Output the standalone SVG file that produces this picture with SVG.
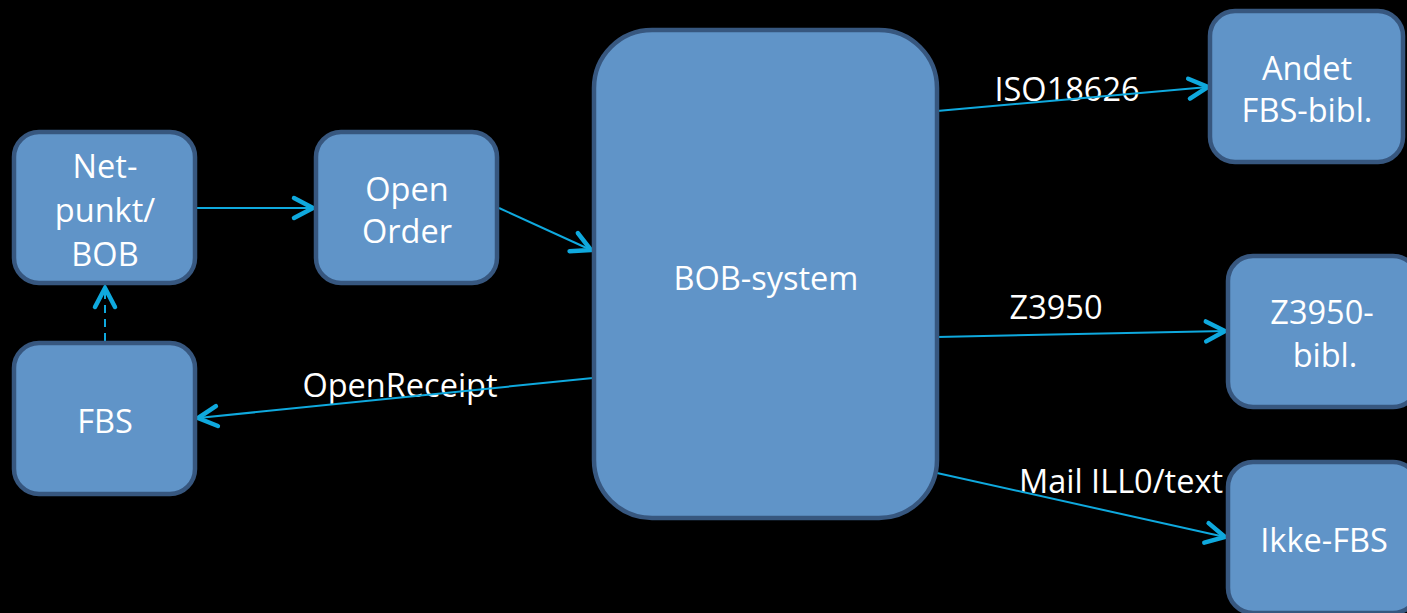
<svg xmlns="http://www.w3.org/2000/svg" width="1407" height="613" viewBox="0 0 1407 613">
<style>
.box{fill:#6094C8;stroke:#37577F;stroke-width:4.5}
.lbl{font-family:"Open Sans","DejaVu Sans",sans-serif;font-size:32.5px;fill:#FFFFFF;text-anchor:middle}
.con{stroke:#0FA9DE;stroke-width:2;fill:none}
</style>
<defs>
<marker id="arr" markerUnits="userSpaceOnUse" markerWidth="30" markerHeight="30" refX="23" refY="14" orient="auto" overflow="visible">
<path d="M4,4 L23,14 L4,24" fill="none" stroke="#0FA9DE" stroke-width="4.5" stroke-linecap="round" stroke-linejoin="miter"/>
</marker>
</defs>
<rect width="1407" height="613" fill="#000000"/>
<g id="labels">
<text class="lbl" x="400" y="397">OpenReceipt</text>
<text class="lbl" x="1067" y="101">ISO18626</text>
<text class="lbl" x="1056" y="319">Z3950</text>
<text class="lbl" x="1121" y="493">Mail ILL0/text</text>
</g>
<g id="connectors">
<line class="con" x1="197" y1="208" x2="313" y2="208" marker-end="url(#arr)"/>
<line class="con" x1="499" y1="208" x2="591" y2="250" marker-end="url(#arr)"/>
<line class="con" x1="105" y1="341" x2="105" y2="288" stroke-dasharray="8,6" marker-end="url(#arr)"/>
<line class="con" x1="593" y1="378" x2="198" y2="418" marker-end="url(#arr)"/>
<line class="con" x1="937" y1="111" x2="1208" y2="87" marker-end="url(#arr)"/>
<line class="con" x1="937" y1="337" x2="1225" y2="331" marker-end="url(#arr)"/>
<line class="con" x1="937" y1="473" x2="1225" y2="537" marker-end="url(#arr)"/>
</g>
<g id="netpunkt">
<rect class="box" x="14" y="132" width="181" height="151" rx="25"/>
<text class="lbl" x="105" y="178">Net-</text>
<text class="lbl" x="105" y="222">punkt/</text>
<text class="lbl" x="105" y="266">BOB</text>
</g>
<g id="openorder">
<rect class="box" x="316" y="132" width="181" height="151" rx="25"/>
<text class="lbl" x="407" y="201">Open</text>
<text class="lbl" x="407" y="243">Order</text>
</g>
<g id="fbs">
<rect class="box" x="14" y="343" width="181" height="151" rx="25"/>
<text class="lbl" x="105" y="433">FBS</text>
</g>
<g id="bobsystem">
<rect class="box" x="594" y="30" width="343" height="488" rx="58"/>
<text class="lbl" x="766" y="290">BOB-system</text>
</g>
<g id="andet">
<rect class="box" x="1210" y="11" width="193" height="151" rx="25"/>
<text class="lbl" x="1307" y="80">Andet</text>
<text class="lbl" x="1307" y="122">FBS-bibl.</text>
</g>
<g id="z3950bibl">
<rect class="box" x="1228" y="256" width="190" height="151" rx="25"/>
<text class="lbl" x="1322" y="324">Z3950-</text>
<text class="lbl" x="1325" y="367">bibl.</text>
</g>
<g id="ikkefbs">
<rect class="box" x="1228" y="462" width="190" height="151" rx="25"/>
<text class="lbl" x="1324" y="552">Ikke-FBS</text>
</g>
</svg>
